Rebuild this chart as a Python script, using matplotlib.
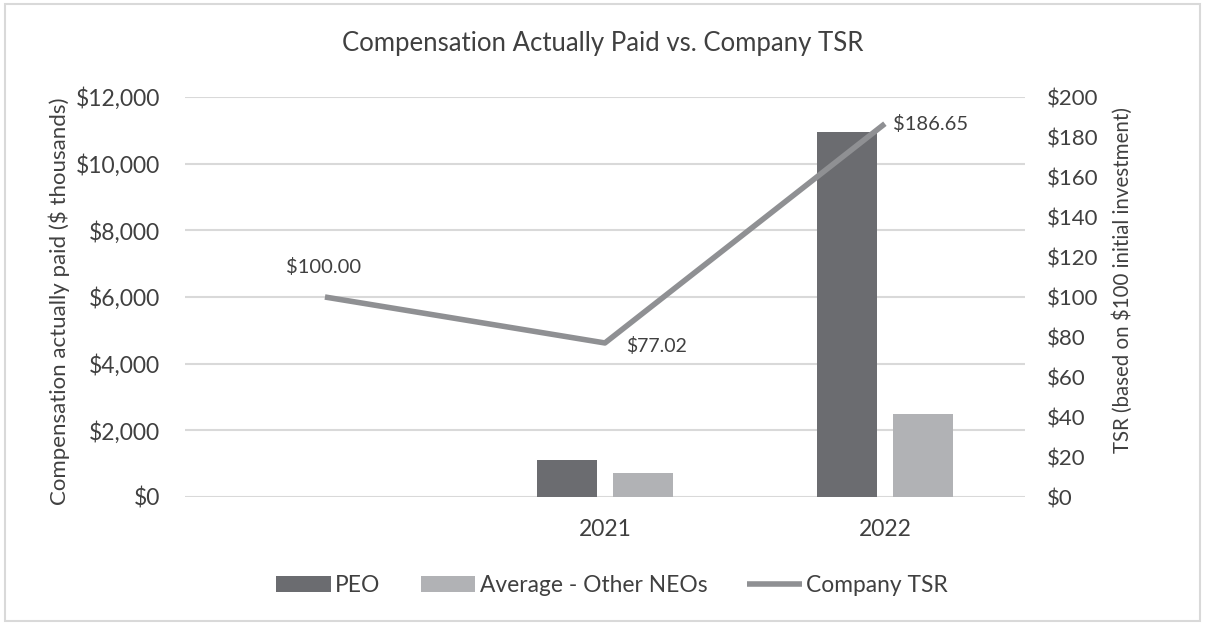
import matplotlib.pyplot as plt
import numpy as np
from matplotlib.ticker import FuncFormatter

plt.rcParams['font.family'] = ['Lato', 'DejaVu Sans']

# data
years = ['', '2021', '2022']
peo = [np.nan, 1100, 10950]          # $ thousands
neo_avg = [np.nan, 720, 2480]        # $ thousands
tsr = [100.00, 77.02, 186.65]
tsr_labels = ['$100.00', '$77.02', '$186.65']

c_peo = '#6b6c70'
c_neo = '#b1b2b5'
c_tsr = '#8f9093'
c_grid = '#d9d9d9'
c_text = '#404040'

fig = plt.figure(figsize=(12.05, 6.25), dpi=100)
ax = fig.add_axes([0.1535, 0.2048, 0.697, 0.64])
x = np.arange(len(years))
w = 0.214
off = 0.135
ax.bar(x - off, peo, w, color=c_peo, label='PEO', zorder=2)
ax.bar(x + off, neo_avg, w, color=c_neo, label='Average - Other NEOs', zorder=2)

ax.set_ylim(0, 12000)
ax.set_yticks(np.arange(0, 12001, 2000))
ax.yaxis.set_major_formatter(FuncFormatter(lambda v, p: '\\$' + format(int(v), ',')))
ax.set_xlim(-0.5, 2.5)
ax.set_xticks(x)
ax.set_xticklabels(years)
ax.grid(axis='y', color=c_grid, linewidth=1.5, zorder=0)
for s in ax.spines.values():
    s.set_visible(False)
ax.tick_params(length=0, labelsize=16.5, colors=c_text, pad=18)
ax.tick_params(axis='x', pad=16)
ax.set_ylabel('Compensation actually paid (\\$ thousands)', fontsize=16, color=c_text)
ax.yaxis.set_label_coords(-0.137, 0.49)

ax2 = ax.twinx()
ax2.plot(x, tsr, color=c_tsr, linewidth=4, solid_capstyle='butt', label='Company TSR', zorder=3)
ax2.set_ylim(0, 200)
ax2.set_yticks(np.arange(0, 201, 20))
ax2.yaxis.set_major_formatter(FuncFormatter(lambda v, p: '\\$' + str(int(v))))
for s in ax2.spines.values():
    s.set_visible(False)
ax2.tick_params(length=0, labelsize=16, colors=c_text, pad=16)
ax2.set_ylabel('TSR (based on \\$100 initial investment)', fontsize=14.8, color=c_text)
ax2.yaxis.set_label_coords(1.104, 0.543)

# data labels
ax2.annotate(tsr_labels[0].replace('$', '\\$'), (x[0], tsr[0]), xytext=(-1, 15),
             textcoords='offset points', ha='center', va='bottom', fontsize=14.5, color=c_text)
ax2.annotate(tsr_labels[1].replace('$', '\\$'), (x[1], tsr[1]), xytext=(15, -2),
             textcoords='offset points', ha='left', va='center', fontsize=14, color=c_text)
ax2.annotate(tsr_labels[2].replace('$', '\\$'), (x[2], tsr[2]), xytext=(6, 0),
             textcoords='offset points', ha='left', va='center', fontsize=14.5, color=c_text)

fig.suptitle('Compensation Actually Paid vs. Company TSR', y=0.95, fontsize=18.5, color=c_text)

h1, l1 = ax.get_legend_handles_labels()
h2, l2 = ax2.get_legend_handles_labels()
fig.legend(h1 + h2, l1 + l2, loc='center', bbox_to_anchor=(0.508, 0.064), ncol=3,
           frameon=False, fontsize=16.4, labelcolor=c_text, handlelength=2.4,
           handletextpad=0.2, columnspacing=1.75)

# light frame around the chart
fig.patches.append(plt.Rectangle((0.004, 0.006), 0.992, 0.988, transform=fig.transFigure,
                                 fill=False, edgecolor='#d9d9d9', linewidth=1.5))

fig.savefig('out.png', dpi=100)
